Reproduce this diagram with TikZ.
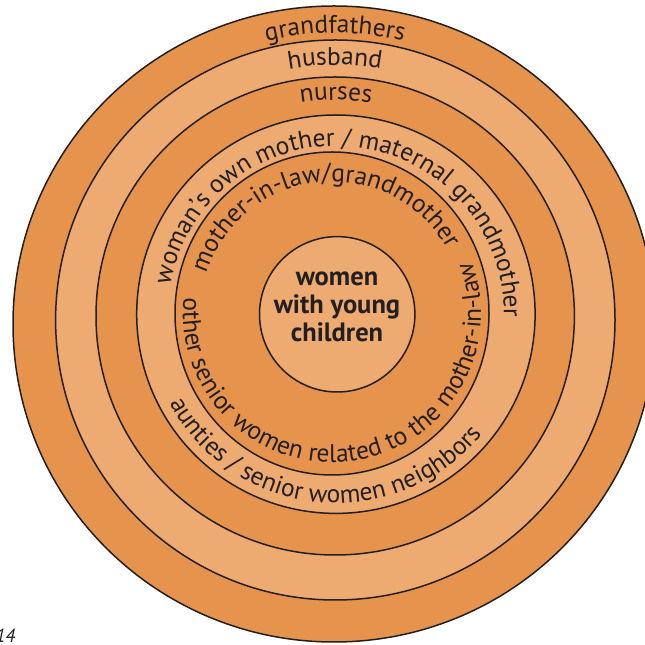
\documentclass[tikz,border=0pt]{standalone}
\usepackage{fontspec}
\setmainfont{PT Sans}
\usetikzlibrary{decorations.text}
\definecolor{ringdark}{RGB}{229,147,77}
\definecolor{ringlight}{RGB}{237,170,113}
\definecolor{ink}{RGB}{35,31,32}
\newcommand{\ringfont}{\fontsize{25.5}{25.5}\selectfont}
\begin{document}
\begin{tikzpicture}[x=1pt,y=1pt,
  ringline/.style={draw=ink, line width=1.5pt},
  ringtext/.style={decorate, decoration={text along path, text align=center, text color=ink, text={|\ringfont|#1}}}]
\useasboundingbox (0,0) rectangle (645,645);
\clip (0,0) rectangle (645,645);
\fill[white] (0,0) rectangle (645,645);
% rings, outer to inner
\path[ringline, fill=ringdark]  (334,321) ellipse [x radius=321, y radius=318];
\path[ringline, fill=ringlight] (335.3,325) ellipse [x radius=279.7, y radius=280];
\path[ringline, fill=ringdark]  (335.2,329) ellipse [x radius=239.2, y radius=239];
\path[ringline, fill=ringlight] (335.9,330.8) circle [radius=199.2];
\path[ringline, fill=ringdark]  (332,331.5) ellipse [x radius=157, y radius=161.5];
\node[circle, ringline, fill=ringlight, minimum size=155.4pt, inner sep=0pt] (core) at (337.2,330.7) {};
\node[align=center, text=ink, font=\bfseries\fontsize{26.5}{28}\selectfont] (coretext) at (337,338) {women\\with young\\children};
% top texts
\path[ringtext={grandfathers}] (335,323) ++(180:289) arc[start angle=180, end angle=0, radius=289];
\path[ringtext={husband}] (335,329) ++(180:251) arc[start angle=180, end angle=0, radius=251];
\path[ringtext={nurses}] (336,331) ++(180:214) arc[start angle=180, end angle=0, radius=214];
\path[ringtext={woman’s own mother / maternal grandmother}] (336,331) ++(184.5:168) arc[start angle=184.5, end angle=-15.5, radius=168];
\path[ringtext={mother-in-law/grandmother}] (332,331.5) ++(195.7:132) arc[start angle=195.7, end angle=-4.3, radius=132];
% bottom texts
\path[ringtext={other senior women related to the mother-in-law}] (332,331.5) ++(157.25:149) arc[start angle=157.25, end angle=397.25, radius=149];
\path[ringtext={aunties / senior women neighbors}] (336,331) ++(164.4:189) arc[start angle=164.4, end angle=364.4, radius=189];
% page number fragment
\node[anchor=base east, text=ink, font=\itshape\fontsize{19}{19}\selectfont, inner sep=0pt] (pagenum) at (15.5,2.5) {14};
\end{tikzpicture}
\end{document}
